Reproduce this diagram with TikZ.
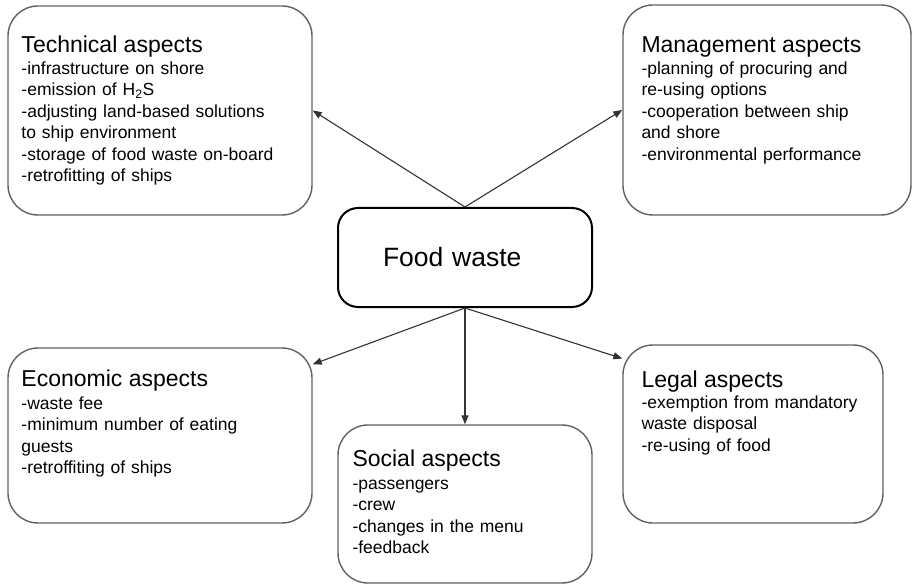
\documentclass[tikz,border=0pt]{standalone}
\usepackage{fontspec}
\setmainfont{Liberation Sans}
\usetikzlibrary{arrows.meta}
\tikzset{
  foodbox/.style={draw=black, line width=2bp, rounded corners=20bp, inner sep=0pt, align=left, font=\fontsize{26.5bp}{30bp}\selectfont},
  aspectbox/.style={draw=black!62, line width=1.4bp, rounded corners=30bp, inner sep=0pt},
  headtext/.style={anchor=base west, inner sep=0pt, font=\fontsize{23bp}{27bp}\selectfont},
  bodytext/.style={anchor=base west, inner sep=0pt, text width=290bp, align=left, font=\fontsize{17.5bp}{21.5bp}\selectfont},
  link/.style={draw=black!80, line width=1.1bp, -{Triangle[length=9bp,width=7bp]}},
}

\begin{document}
\begin{tikzpicture}[x=1bp, y=-1bp]
	%%%%% START %%%%%
	\useasboundingbox (0,0) rectangle (912,585);
	
	% centre
	\node[foodbox, minimum width=254bp, minimum height=99bp, text width=164bp] (food) at (465,257.5) {Food waste};
	
	% the five aspects
	\node[aspectbox, minimum width=304bp, minimum height=209bp] (tech) at (160,110.5) {};
	\node[aspectbox, minimum width=288bp, minimum height=210bp] (mgmt) at (767,110) {};
	\node[aspectbox, minimum width=304bp, minimum height=175bp] (econ) at (160,435.5) {};
	\node[aspectbox, minimum width=254bp, minimum height=158bp] (social) at (465,504) {};
	\node[aspectbox, minimum width=260bp, minimum height=178bp] (legal) at (753,434) {};
	
	\node[headtext] (techhead) at ([shift={(14,47)}]tech.north west) {Technical aspects};
	\node[bodytext] (techbody) at ([shift={(0,22)}]techhead.base west) {-infrastructure on shore\\-emission of H\textsubscript{2}S\\-adjusting land-based solutions\\to ship environment\\-storage of food waste on-board\\-retrofitting of ships};
	
	\node[headtext] (mgmthead) at ([shift={(19,48)}]mgmt.north west) {Management aspects};
	\node[bodytext] (mgmtbody) at ([shift={(0,22)}]mgmthead.base west) {-planning of procuring and\\re-using options\\-cooperation between ship\\and shore\\-environmental performance};
	
	\node[headtext] (econhead) at ([shift={(14,39)}]econ.north west) {Economic aspects};
	\node[bodytext] (econbody) at ([shift={(0,23)}]econhead.base west) {-waste fee\\-minimum number of eating\\guests\\-retroffiting of ships};
	
	\node[headtext] (socialhead) at ([shift={(15,42)}]social.north west) {Social aspects};
	\node[bodytext] (socialbody) at ([shift={(0,23)}]socialhead.base west) {-passengers\\-crew\\-changes in the menu\\-feedback};
	
	\node[headtext] (legalhead) at ([shift={(19,43)}]legal.north west) {Legal aspects};
	\node[bodytext] (legalbody) at ([shift={(0,21)}]legalhead.base west) {-exemption from mandatory\\waste disposal\\-re-using of food};
	
	% connectors
	\draw[link] (food.north) -- (tech.east);
	\draw[link] (food.north) -- (mgmt.west);
	\draw[link] (food.south) -- (econ.25);
	\draw[link] (food.south) -- (social.north);
	\draw[link] (food.south) -- (legal.150);
	
	%%%%% END %%%%%
\end{tikzpicture}
\end{document}
